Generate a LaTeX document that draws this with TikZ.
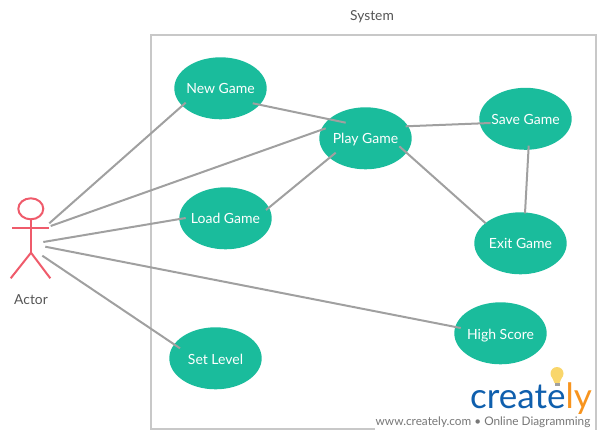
\documentclass[tikz,border=0pt]{standalone}
\usepackage{fontspec}
\setmainfont{Lato}
\usetikzlibrary{shapes.geometric}
\definecolor{usecasegreen}{HTML}{1ABC9C}
\definecolor{actorred}{HTML}{EF5B6B}
\definecolor{linkgray}{HTML}{A0A0A0}
\definecolor{framegray}{HTML}{C8C8C8}
\definecolor{labelgray}{HTML}{555555}
\definecolor{logogray}{HTML}{777777}
\definecolor{logoblue}{HTML}{0F5FAD}
\definecolor{logoorange}{HTML}{F7941E}
\definecolor{bulbyellow}{HTML}{F9D66B}
\tikzset{
    usecasestyle/.style={ellipse, fill=usecasegreen, text=white, inner sep=-8pt, minimum width=92.4pt, minimum height=62pt, text height=13pt, text depth=1.6pt, font=\fontsize{14}{16}\selectfont},
    linkstyle/.style={linkgray, line width=2pt},
    actorstyle/.style={actorred, line width=2pt},
    labelstyle/.style={labelgray, font=\fontsize{13.8}{16}\selectfont}
}

\begin{document}
\begin{tikzpicture}[x=1pt, y=-1pt]
        \useasboundingbox (0,0) rectangle (605,438);

        % --- System frame ---
        \draw[framegray, line width=2pt] (151,35) rectangle (596,429);
        \node[labelstyle] (systemlabel) at (372,16.5) {System};

        % --- Use cases ---
        \node[usecasestyle] (newgame) at (220.5,88.3) {New Game};
        \node[usecasestyle] (playgame) at (365.5,138.3) {Play Game};
        \node[usecasestyle] (savegame) at (525.5,118.8) {Save Game};
        \node[usecasestyle] (exitgame) at (520.5,243.3) {Exit Game};
        \node[usecasestyle] (loadgame) at (225.5,218.3) {Load Game};
        \node[usecasestyle] (setlevel) at (215.5,358.3) {Set Level};
        \node[usecasestyle] (highscore) at (500.5,333.3) {High Score};

        % --- Actor ---
        \draw[actorstyle] (30.8,208.8) ellipse (12.5 and 10.5);
        \draw[actorstyle] (31,219.3) -- (31,252.7);
        \draw[actorstyle] (12.3,227.7) -- (49,227.7);
        \draw[actorstyle] (10.7,278.3) -- (31,252.7) -- (50.3,278.3);
        \node[labelstyle] (actorlabel) at (31,300) {Actor};

        % free ends of the actor links
        \coordinate (actora) at (49.3,223.3);
        \coordinate (actorb) at (50.7,226);
        \coordinate (actorc) at (43.3,242);
        \coordinate (actord) at (45.3,246.7);
        \coordinate (actore) at (42.3,255.7);

        % --- Links ---
        \draw[linkstyle] (actora) -- ([shift={(-34.8,14.4)}]newgame.center);
        \draw[linkstyle] (actorb) -- ([shift={(-39.8,-10)}]playgame.center);
        \draw[linkstyle] (actorc) -- ([shift={(-39.8,-0.3)}]loadgame.center);
        \draw[linkstyle] (actord) -- ([shift={(-39.8,-5.3)}]highscore.center);
        \draw[linkstyle] (actore) -- ([shift={(-35.5,-10)}]setlevel.center);
        \draw[linkstyle] ([shift={(32.2,15)}]newgame.center) -- ([shift={(-19.8,-15.6)}]playgame.center);
        \draw[linkstyle] ([shift={(40.5,-8.3)}]loadgame.center) -- ([shift={(-29.8,14.4)}]playgame.center);
        \draw[linkstyle] ([shift={(40.2,-12)}]playgame.center) -- ([shift={(-34.8,4.2)}]savegame.center);
        \draw[linkstyle] ([shift={(33.8,8)}]playgame.center) -- ([shift={(-34.8,-20)}]exitgame.center);
        \draw[linkstyle] ([shift={(3.2,26.9)}]savegame.center) -- ([shift={(4.5,-30)}]exitgame.center);

        % --- Logo ---
        \fill[white] (375,413) rectangle (594.5,433);
        \node[logogray, font=\fontsize{11.8}{13}\selectfont, inner sep=0pt] (logotext) at (483,422.5) {www.creately.com • Online Diagramming};
        \node[anchor=base east, inner sep=0pt, font=\fontsize{35}{36}\selectfont] (logoname) at (592,408) {\textcolor{logoblue}{create}\textcolor{logoorange}{ly}};
        \fill[bulbyellow] (557,373.5) circle (6.5);
        \fill[bulbyellow] (551.5,376) -- (562.5,376) -- (559.5,383) -- (554.5,383) -- cycle;
        \fill[linkgray] (554.5,383) rectangle (559.5,386);

\end{tikzpicture}
\end{document}
